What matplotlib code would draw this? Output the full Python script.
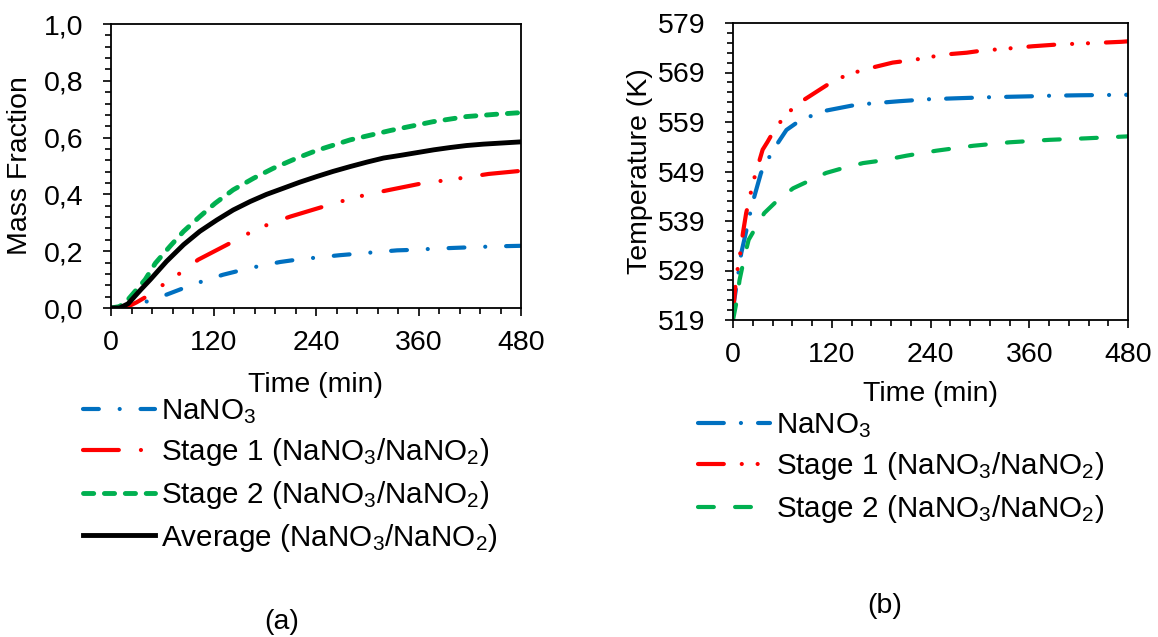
import matplotlib
matplotlib.use("Agg")
import matplotlib.pyplot as plt
from matplotlib.ticker import MultipleLocator, FuncFormatter

plt.rcParams['font.family'] = ['Liberation Sans', 'DejaVu Sans']
plt.rcParams['mathtext.fontset'] = 'custom'
plt.rcParams['mathtext.rm'] = 'Liberation Sans'

# (a) mass fraction vs time
t_a_nano3 = [0, 15, 25, 30, 42, 65, 85, 107, 131, 151, 174, 198, 217, 242, 268, 288,
             311, 335, 356, 379, 405, 449, 480]
mf_nano3 = [0, 0, 0.005, 0.012, 0.023, 0.047, 0.07, 0.094, 0.117, 0.132, 0.148, 0.162,
            0.17, 0.178, 0.186, 0.191, 0.197, 0.203, 0.205, 0.209, 0.212, 0.217, 0.219]
t_a_stage1 = [0, 10, 20, 30, 42, 61, 82, 102, 143, 163, 186, 210, 252, 276, 299, 323,
              366, 393, 418, 442, 480]
mf_stage1 = [0, 0, 0.005, 0.02, 0.041, 0.082, 0.125, 0.17, 0.234, 0.266, 0.297, 0.322,
             0.36, 0.381, 0.399, 0.414, 0.44, 0.45, 0.461, 0.472, 0.483]
t_a_stage2 = [0, 10, 20, 30, 40, 52, 69, 85, 104, 122, 143, 167, 190, 217, 241, 280,
              327, 377, 416, 450, 480]
mf_stage2 = [0, 0.005, 0.03, 0.065, 0.10, 0.158, 0.217, 0.27, 0.322, 0.369, 0.416, 0.457,
             0.492, 0.527, 0.555, 0.592, 0.625, 0.656, 0.674, 0.682, 0.688]
t_a_avg = [0, 10, 20, 26, 35, 46, 65, 85, 104, 124, 143, 163, 182, 202, 221, 241, 260,
           280, 300, 319, 340, 358, 378, 397, 416, 436, 458, 480]
mf_avg = [0, 0, 0.015, 0.035, 0.065, 0.10, 0.164, 0.223, 0.27, 0.31, 0.345, 0.375, 0.40,
          0.422, 0.443, 0.463, 0.481, 0.498, 0.514, 0.528, 0.538, 0.547, 0.557, 0.565,
          0.572, 0.577, 0.581, 0.585]

# (b) temperature vs time
t_b_nano3 = [0, 1.2, 6, 10, 16, 20, 26, 34, 43, 53, 65, 77, 93, 113, 144, 165, 202, 238,
             273, 310, 364, 383, 421, 480]
temp_nano3 = [520, 522.7, 527.8, 532.5, 536.9, 540, 544, 548.7, 551.6, 554.4, 557.4, 558.8,
              560.1, 561.3, 562.3, 562.7, 563.2, 563.6, 563.8, 564, 564.2, 564.3, 564.4, 564.5]
t_b_stage1 = [0, 1.2, 4, 8, 12, 16, 20, 24, 30, 36, 42, 52, 64, 77, 93, 107, 123, 142, 162,
              194, 213, 233, 255, 284, 306, 325, 364, 398, 417, 472, 480]
temp_stage1 = [520.5, 522.7, 527.8, 531.5, 536.5, 540.6, 543.4, 546.6, 550, 553.4, 555,
               557.9, 560.3, 562.5, 564.2, 565.7, 567.4, 568.7, 569.7, 571, 571.4, 571.9,
               572.6, 573, 573.5, 573.7, 574.3, 574.7, 574.8, 575.2, 575.3]
t_b_stage2 = [0, 4, 8, 14, 19, 26, 38, 53, 73, 91, 113, 134, 158, 180, 211, 247, 292, 336,
              385, 429, 480]
temp_stage2 = [519, 522.4, 527.1, 531.8, 535.2, 537.2, 540.6, 543, 545.6, 547, 548.7, 549.7,
               550.7, 551.2, 552.2, 553.2, 554.2, 554.9, 555.4, 555.7, 556.1]

temp_ticks = [519, 529, 539, 549, 559, 569, 579]

lbl_nano3 = r"NaNO$\mathregular{_3}$"
lbl_s1 = r"Stage 1 (NaNO$\mathregular{_3}$/NaNO$\mathregular{_2}$)"
lbl_s2 = r"Stage 2 (NaNO$\mathregular{_3}$/NaNO$\mathregular{_2}$)"
lbl_avg = r"Average (NaNO$\mathregular{_3}$/NaNO$\mathregular{_2}$)"

BLUE = "#0070C0"
RED = "#FF0000"
GREEN = "#00B050"
FS = 20.5
LFS = 21.3

fig = plt.figure(figsize=(11.58, 6.37), dpi=100)
ax1 = fig.add_axes([111 / 1158, 1 - 308 / 637, 410 / 1158, 284 / 637])
ax2 = fig.add_axes([733 / 1158, 1 - 320 / 637, 395 / 1158, 297 / 637])


def style_axes(ax):
    for s in ax.spines.values():
        s.set_linewidth(1.3)
    ax.tick_params(which='major', direction='out', length=6, width=1.2,
                   labelsize=FS, pad=10)
    ax.tick_params(which='minor', direction='out', length=4, width=1.2)
    ax.tick_params(axis='y', which='major', pad=14)


kw = dict(lw=3, dash_capstyle='round', solid_capstyle='round')

ax1.plot(t_a_nano3, mf_nano3, color=BLUE, dashes=(3.8, 5.0, 0.01, 5.0), label=lbl_nano3, **kw)
ax1.plot(t_a_stage1, mf_stage1, color=RED, dashes=(8.6, 5.3, 0.01, 4.8, 0.01, 5.3),
         label=lbl_s1, **kw)
ax1.plot(t_a_stage2, mf_stage2, color=GREEN, lw=3.5, dashes=(2.1, 2.2),
         dash_capstyle='round', label=lbl_s2)
ax1.plot(t_a_avg, mf_avg, color="black", lw=3.5, label=lbl_avg)
ax1.set_xlim(0, 480)
ax1.set_ylim(0, 1)
ax1.xaxis.set_major_locator(MultipleLocator(120))
ax1.xaxis.set_minor_locator(MultipleLocator(24))
ax1.yaxis.set_major_locator(MultipleLocator(0.2))
ax1.yaxis.set_minor_locator(MultipleLocator(0.04))
ax1.yaxis.set_major_formatter(FuncFormatter(lambda v, p: f"{v:.1f}".replace('.', ',')))
style_axes(ax1)
ax1.set_xlabel("Time (min)", fontsize=FS)
ax1.set_ylabel("Mass Fraction", fontsize=FS)
ax1.xaxis.set_label_coords(0.5, -0.225)
ax1.yaxis.set_label_coords(-0.19, 0.5)

ax2.plot(t_b_nano3, temp_nano3, color=BLUE, dashes=(6.2, 4.1, 0.01, 4.1), label=lbl_nano3, **kw)
ax2.plot(t_b_stage1, temp_stage1, color=RED, dashes=(6.2, 4.3, 0.01, 3.8, 0.01, 4.3),
         label=lbl_s1, **kw)
ax2.plot(t_b_stage2, temp_stage2, color=GREEN, dashes=(3.8, 5.1), label=lbl_s2, **kw)
ax2.set_xlim(0, 480)
ax2.set_ylim(temp_ticks[0], temp_ticks[-1])
ax2.xaxis.set_major_locator(MultipleLocator(120))
ax2.xaxis.set_minor_locator(MultipleLocator(24))
ax2.set_yticks(temp_ticks)
ax2.set_yticks(range(temp_ticks[0], temp_ticks[-1] + 1, 2), minor=True)
style_axes(ax2)
ax2.set_xlabel("Time (min)", fontsize=FS)
ax2.set_ylabel("Temperature (K)", fontsize=FS)
ax2.xaxis.set_label_coords(0.5, -0.205)
ax2.yaxis.set_label_coords(-0.2025, 0.5)

leg_kw = dict(loc='upper left', bbox_transform=fig.transFigure, frameon=False,
              fontsize=LFS, handlelength=2.45, handletextpad=0.17, labelspacing=0.36,
              borderpad=0, borderaxespad=0)
ax1.legend(bbox_to_anchor=(83 / 1158, 1 - 397 / 637), **leg_kw)
ax2.legend(bbox_to_anchor=(698 / 1158, 1 - 411 / 637), **leg_kw)

fig.text(282 / 1158, 1 - 622 / 637, "(a)", fontsize=FS, ha='center', va='center')
fig.text(885 / 1158, 1 - 606 / 637, "(b)", fontsize=FS, ha='center', va='center')

fig.savefig("out.png", dpi=100)
